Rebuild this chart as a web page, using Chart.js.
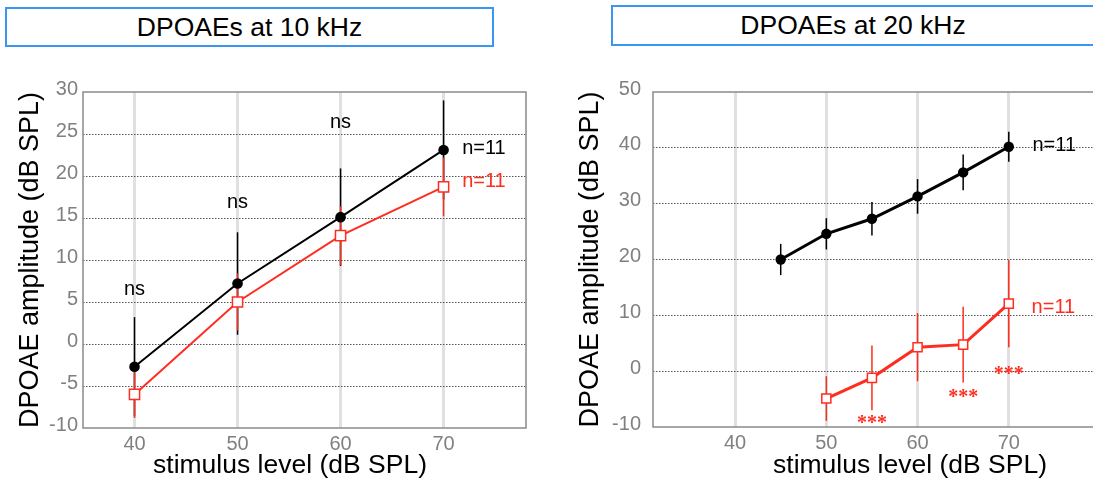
<!DOCTYPE html>
<html>
<head>
<meta charset="utf-8">
<script src="https://cdn.jsdelivr.net/npm/chart.js@4.4.1/dist/chart.umd.min.js"></script>
<style>
  html, body { margin: 0; padding: 0; background: #fff; overflow: hidden; width: 1093px; height: 486px; }
  .box { position: absolute; border: 2px solid #3a96f0; box-sizing: border-box; background: #fff;
         font-family: "Liberation Sans", Arial, sans-serif; font-size: 26.5px; color: #000;
         display: flex; align-items: center; justify-content: center; }
  #titleL { left: 5px; top: 7px; width: 489px; height: 40px; }
  #titleR { left: 611px; top: 5px; width: 484px; height: 41px; }
  #wrapL { position: absolute; left: 0; top: 0; width: 546px; height: 486px; }
  #wrapR { position: absolute; left: 560px; top: 0; width: 560px; height: 486px; }
</style>
</head>
<body>
<div id="wrapL"><canvas id="chartL" width="546" height="486"></canvas></div>
<div id="wrapR"><canvas id="chartR" width="560" height="486"></canvas></div>
<div class="box" id="titleL">DPOAEs at 10 kHz</div>
<div class="box" id="titleR">DPOAEs at 20 kHz</div>
<script>
// ---- data: 10 kHz panel ----
const levels10 = [40, 50, 60, 70];
const ctrl10 = [-2.7, 7.2, 15.1, 23.1];
const ctrl10Err = [5.9, 6.1, 5.8, 5.9];
const test10 = [-6.0, 5.0, 12.9, 18.7];
const test10Err = [2.8, 3.4, 3.5, 3.5];
const ns10X = [40, 50, 60];
const ns10Y = [6.5, 16.8, 26.4];

// ---- data: 20 kHz panel ----
const ctrlLevels20 = [45, 50, 55, 60, 65, 70];
const ctrl20 = [20.0, 24.6, 27.3, 31.3, 35.6, 40.2];
const ctrl20Err = [2.8, 2.8, 3.0, 3.1, 3.2, 2.7];
const testLevels20 = [50, 55, 60, 65, 70];
const test20 = [-4.9, -1.2, 4.3, 4.75, 12.1];
const test20Err = [4.0, 5.8, 6.1, 6.8, 7.8];
const stars20X = [55, 65, 70];
const stars20Y = [-9.4, -4.7, -0.6];

// ticks
const xTicks = [40, 50, 60, 70];
const yTicks10 = [-10, -5, 0, 5, 10, 15, 20, 25, 30];
const yTicks20 = [-10, 0, 10, 20, 30, 40, 50];

const RED = '#ff2d1f';
const FONT = '"Liberation Sans", Arial, sans-serif';

// error bars, frame, text notes and x title drawn through the chart's scales
const extras = {
  id: 'extras',
  beforeDatasetsDraw(chart) {
    const ctx = chart.ctx;
    const xs = chart.scales.x, ys = chart.scales.y;
    chart.data.datasets.forEach(ds => {
      if (!ds.errors) return;
      ctx.save();
      ctx.strokeStyle = ds.borderColor;
      ctx.lineWidth = ds.errWidth || 1.5;
      ds.data.forEach((p, i) => {
        const x = xs.getPixelForValue(p.x);
        ctx.beginPath();
        ctx.moveTo(x, ys.getPixelForValue(p.y + ds.errors[i]));
        ctx.lineTo(x, ys.getPixelForValue(p.y - ds.errors[i]));
        ctx.stroke();
      });
      ctx.restore();
    });
  },
  afterDraw(chart, args, opts) {
    const ctx = chart.ctx;
    const xs = chart.scales.x, ys = chart.scales.y;
    const a = chart.chartArea;
    ctx.save();
    ctx.strokeStyle = '#8a8a8a';
    ctx.lineWidth = 1.5;
    ctx.strokeRect(a.left, a.top, a.right - a.left, a.bottom - a.top);
    (opts.notes || []).forEach(n => {
      ctx.font = n.font;
      ctx.fillStyle = n.color;
      ctx.textAlign = n.align || 'center';
      ctx.textBaseline = 'middle';
      ctx.fillText(n.text, xs.getPixelForValue(n.x), ys.getPixelForValue(n.y));
    });
    if (opts.xTitle) {
      ctx.font = '26.5px ' + FONT;
      ctx.fillStyle = '#000';
      ctx.textAlign = 'center';
      ctx.textBaseline = 'middle';
      ctx.fillText(opts.xTitle.text, opts.xTitle.cx, opts.xTitle.cy);
    }
    ctx.restore();
  }
};

function makeChart(id, cfg) {
  const yT = cfg.yTicks;
  return new Chart(document.getElementById(id), {
    type: 'line',
    data: { datasets: cfg.datasets },
    options: {
      responsive: false,
      devicePixelRatio: 1,
      animation: false,
      layout: { padding: { left: 0, right: cfg.padRight, top: 92, bottom: 0 } },
      plugins: {
        legend: { display: false },
        tooltip: { enabled: false },
        extras: { notes: cfg.notes, xTitle: cfg.xTitle }
      },
      scales: {
        x: {
          type: 'linear',
          min: cfg.xMin, max: cfg.xMax,
          afterBuildTicks: s => { s.ticks = xTicks.map(v => ({ value: v })); },
          afterFit: s => { s.height = cfg.xAxisH; },
          border: { display: false },
          grid: { color: '#e0e0e0', lineWidth: 3, drawTicks: false },
          ticks: { color: '#808080', font: { family: FONT, size: 20 }, padding: 4, maxRotation: 0 }
        },
        y: {
          type: 'linear',
          min: yT[0], max: yT[yT.length - 1],
          afterBuildTicks: s => { s.ticks = yT.map(v => ({ value: v })); },
          afterFit: s => { s.width = cfg.yAxisW; },
          border: { display: false, dash: [1.5, 1.5] },
          grid: {
            drawTicks: false,
            lineWidth: 1,
            color: c => (c.tick && (c.tick.value === yT[0] || c.tick.value === yT[yT.length - 1])) ? 'rgba(0,0,0,0)' : '#555'
          },
          ticks: { color: '#808080', font: { family: FONT, size: 20 }, padding: cfg.yPad, labelOffset: -3 },
          title: { display: true, text: 'DPOAE amplitude (dB SPL)', color: '#000',
                   font: { family: FONT, size: 27 }, padding: { top: 14, bottom: 0 } }
        }
      }
    },
    plugins: [extras]
  });
}

const pts = (xs, ys) => xs.map((x, i) => ({ x: x, y: ys[i] }));

makeChart('chartL', {
  xMin: 35, xMax: 78, padRight: 20, yAxisW: 83, xAxisH: 58, yPad: 5,
  yTicks: yTicks10,
  xTitle: { text: 'stimulus level (dB SPL)', cx: 290, cy: 466 },
  notes: [
    ...ns10X.map((x, i) => ({ text: 'ns', x: x, y: ns10Y[i], font: '20px ' + FONT, color: '#000' })),
    { text: 'n=11', x: 71.8, y: 23.3, font: '20px ' + FONT, color: '#000', align: 'left' },
    { text: 'n=11', x: 71.8, y: 19.4, font: '20px ' + FONT, color: RED, align: 'left' }
  ],
  datasets: [
    { data: pts(levels10, ctrl10), errors: ctrl10Err, borderColor: '#000', backgroundColor: '#000',
      borderWidth: 2, pointRadius: 5.3, pointBorderWidth: 0, pointBackgroundColor: '#000' },
    { data: pts(levels10, test10), errors: test10Err, borderColor: RED, backgroundColor: '#fff',
      borderWidth: 2, pointStyle: 'rect', pointRadius: 7.2, pointBorderWidth: 1.5,
      pointBackgroundColor: '#fff', pointBorderColor: RED }
  ]
});

makeChart('chartR', {
  xMin: 31, xMax: 80, padRight: 20, yAxisW: 93, xAxisH: 59, yPad: 12,
  yTicks: yTicks20,
  xTitle: { text: 'stimulus level (dB SPL)', cx: 350, cy: 466 },
  notes: [
    { text: 'n=11', x: 72.6, y: 40.4, font: '20px ' + FONT, color: '#000', align: 'left' },
    { text: 'n=11', x: 72.5, y: 11.4, font: '20px ' + FONT, color: RED, align: 'left' },
    ...stars20X.map((x, i) => ({ text: '***', x: x, y: stars20Y[i], font: 'bold 20px "Liberation Serif", serif', color: RED }))
  ],
  datasets: [
    { data: pts(ctrlLevels20, ctrl20), errors: ctrl20Err, borderColor: '#000', backgroundColor: '#000',
      borderWidth: 3, pointRadius: 5.2, pointBorderWidth: 0, pointBackgroundColor: '#000' },
    { data: pts(testLevels20, test20), errors: test20Err, borderColor: RED, backgroundColor: '#fff',
      borderWidth: 3, pointStyle: 'rect', pointRadius: 6.4, pointBorderWidth: 1.5,
      pointBackgroundColor: '#fff', pointBorderColor: RED }
  ]
});
</script>
</body>
</html>
